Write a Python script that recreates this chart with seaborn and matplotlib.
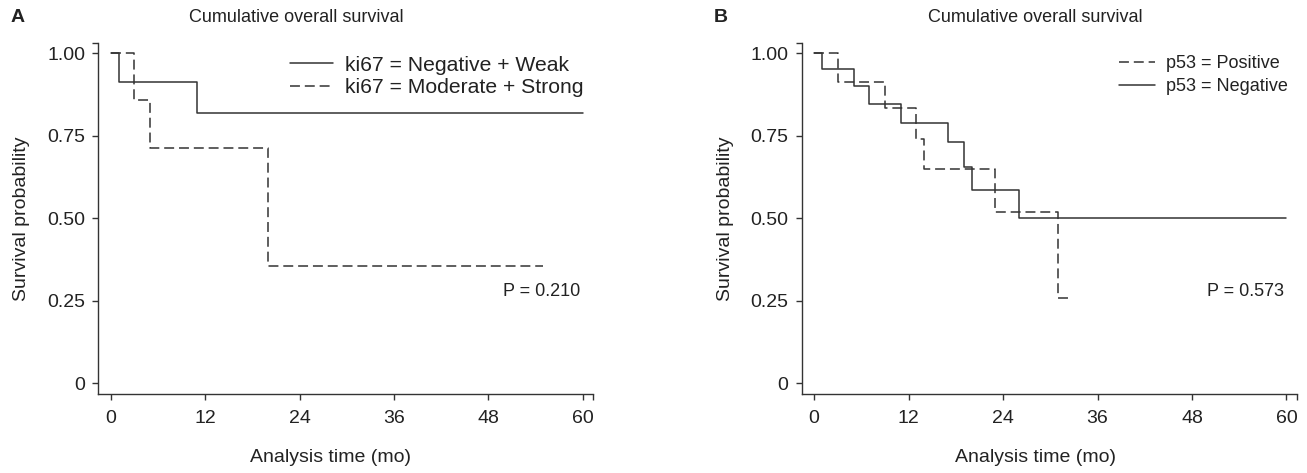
import matplotlib
matplotlib.use("Agg")
import matplotlib.pyplot as plt
import seaborn as sns
import pandas as pd

# ---------------- data ----------------
title = "Cumulative overall survival"
xlabel = "Analysis time (mo)"
ylabel = "Survival probability"
xticks = [0, 12, 24, 36, 48, 60]
yticks = [0, 0.25, 0.50, 0.75, 1.00]
yticklabels = ["0", "0.25", "0.50", "0.75", "1.00"]

# Panel A (ki67)
a_neg_label = "ki67 = Negative + Weak"
a_neg_time = [0, 1, 11, 60]
a_neg_surv = [1.0, 0.913, 0.820, 0.820]
a_mod_label = "ki67 = Moderate + Strong"
a_mod_time = [0, 3, 5, 20, 55]
a_mod_surv = [1.0, 0.857, 0.714, 0.357, 0.357]
a_p = "P = 0.210"

# Panel B (p53)
b_pos_label = "p53 = Positive"
b_pos_time = [0, 3, 9, 13, 14, 23, 31, 32.6]
b_pos_surv = [1.0, 0.913, 0.833, 0.740, 0.648, 0.520, 0.260, 0.260]
b_neg_label = "p53 = Negative"
b_neg_time = [0, 1, 5, 7, 11, 17, 19, 20, 26, 60]
b_neg_surv = [1.0, 0.952, 0.900, 0.845, 0.790, 0.730, 0.655, 0.585, 0.500, 0.500]
b_p = "P = 0.573"

# ---------------- style ----------------
sns.set_theme(style="ticks")
plt.rcParams["font.family"] = ["Liberation Sans", "DejaVu Sans"]
INK = "#333333"
TXT = "#222222"
FS_TICK = 14
FS_TITLE = 13
FS_LAB = 14
FS_P = 13

fig = plt.figure(figsize=(13.07, 4.73), dpi=100)
axA = fig.add_axes([0.0752, 0.1664, 0.3785, 0.7433])
axB = fig.add_axes([0.6134, 0.1664, 0.3787, 0.7433])


def draw(ax, series, ptext, letter, leg_fs, leg_sp, title_x, xlab_x):
    for lab, t, s, ls in series:
        df = pd.DataFrame({"t": t, "s": s})
        sns.lineplot(data=df, x="t", y="s", ax=ax, drawstyle="steps-post",
                     color=INK, linewidth=1.1, linestyle=ls, label=lab,
                     estimator=None, sort=False)
    for ln in ax.get_lines():
        if ln.get_linestyle() == "--":
            ln.set_dashes((6.5, 3.2))
    ax.set_xlim(-1.58, 61.3)
    ax.set_ylim(-0.033, 1.032)
    ax.set_xticks(xticks)
    ax.set_xticklabels([str(v) for v in xticks], color=TXT, fontsize=FS_TICK)
    ax.set_yticks(yticks)
    ax.set_yticklabels(yticklabels, color=TXT, fontsize=FS_TICK)
    # end caps on spines
    ax.set_xticks([61.3], minor=True)
    ax.set_yticks([1.032], minor=True)
    ax.tick_params(which="both", direction="out", length=4.5, width=1.0,
                   color=INK, pad=5)
    ax.tick_params(axis="x", pad=7)
    for sp in ["top", "right"]:
        ax.spines[sp].set_visible(False)
    for sp in ["left", "bottom"]:
        ax.spines[sp].set_color(INK)
        ax.spines[sp].set_linewidth(1.0)
    ax.set_xlabel(xlabel, fontsize=FS_LAB, color=TXT)
    ax.xaxis.set_label_coords(xlab_x, -0.155)
    ax.set_ylabel(ylabel, fontsize=FS_LAB, color=TXT, labelpad=12)
    fig.text(title_x / 1307, 1 - 17 / 473, title, fontsize=FS_TITLE,
             color=TXT, ha="center", va="center")
    leg = ax.legend(loc="upper right", frameon=False, fontsize=leg_fs,
                    handlelength=2.0, handletextpad=0.6, labelspacing=leg_sp,
                    borderaxespad=0.0, borderpad=0.2,
                    bbox_to_anchor=(0.99, 0.975))
    for tx in leg.get_texts():
        tx.set_color(TXT)
    ax.text(0.974, 0.291, ptext, transform=ax.transAxes, ha="right",
            va="center", fontsize=FS_P, color=TXT)
    pos = ax.get_position()
    fig.text(pos.x0 - 0.067, 0.963, letter, fontsize=14, fontweight="bold",
             color=TXT, ha="left", va="center")


draw(axA, [(a_neg_label, a_neg_time, a_neg_surv, "-"),
           (a_mod_label, a_mod_time, a_mod_surv, "--")], a_p, "A",
     15.2, 0.15, 296, 0.47)
draw(axB, [(b_pos_label, b_pos_time, b_pos_surv, "--"),
           (b_neg_label, b_neg_time, b_neg_surv, "-")], b_p, "B",
     13.0, 0.35, 1035, 0.473)

fig.savefig("out.png", dpi=100)
